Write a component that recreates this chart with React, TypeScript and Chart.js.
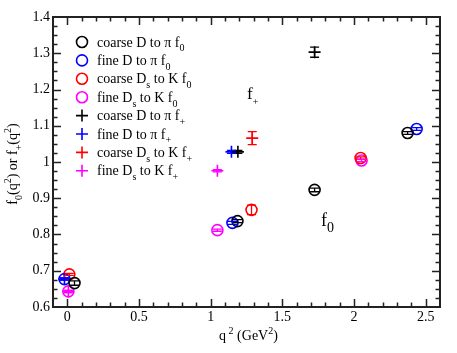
import React, { useEffect, useRef } from 'react';
import { Chart, registerables } from 'chart.js';
Chart.register(...registerables);

const FONT = '"Liberation Serif", "Times New Roman", serif';

// ---- data (q^2 in GeV^2, form factor values, errors) ----
const coarseDpiF0X = [0.05, 1.187, 1.725, 2.374];
const coarseDpiF0Y = [0.666, 0.837, 0.923, 1.080];
const coarseDpiF0E = [0.006, 0.004, 0.005, 0.004];

const fineDpiF0X = [-0.02, 1.152, 2.437];
const fineDpiF0Y = [0.677, 0.832, 1.091];
const fineDpiF0E = [0.003, 0.004, 0.004];

const coarseDsKF0X = [0.014, 1.285, 2.046];
const coarseDsKF0Y = [0.690, 0.868, 1.011];
const coarseDsKF0E = [0.003, 0.013, 0.003];

const fineDsKF0X = [0.007, 1.047, 2.053];
const fineDsKF0Y = [0.643, 0.812, 1.004];
const fineDsKF0E = [0.003, 0.003, 0.003];

const coarseDpiFpX = [1.19, 1.725];
const coarseDpiFpY = [1.028, 1.303];
const coarseDpiFpE = [0.004, 0.014];

const fineDpiFpX = [-0.02, 1.145];
const fineDpiFpY = [0.677, 1.028];
const fineDpiFpE = [0.003, 0.004];

const coarseDsKFpX = [1.29];
const coarseDsKFpY = [1.066];
const coarseDsKFpE = [0.018];

const fineDsKFpX = [0.007, 1.047];
const fineDsKFpY = [0.643, 0.976];
const fineDsKFpE = [0.003, 0.003];

const xTicks = [0, 0.5, 1, 1.5, 2, 2.5];
const yTicks = [0.6, 0.7, 0.8, 0.9, 1, 1.1, 1.2, 1.3, 1.4];

type Seg = { t: string; s?: 'sub' | 'sup'; size?: number; dy?: number };

const series = [
  { x: coarseDpiF0X, y: coarseDpiF0Y, e: coarseDpiF0E, color: '#000000', style: 'circle',
    label: [{ t: 'coarse D to π f' }, { t: '0', s: 'sub' }] as Seg[] },
  { x: fineDpiF0X, y: fineDpiF0Y, e: fineDpiF0E, color: '#0000ff', style: 'circle',
    label: [{ t: 'fine D to π f' }, { t: '0', s: 'sub' }] as Seg[] },
  { x: coarseDsKF0X, y: coarseDsKF0Y, e: coarseDsKF0E, color: '#ff0000', style: 'circle',
    label: [{ t: 'coarse D' }, { t: 's', s: 'sub' }, { t: ' to K f' }, { t: '0', s: 'sub' }] as Seg[] },
  { x: fineDsKF0X, y: fineDsKF0Y, e: fineDsKF0E, color: '#ff00ff', style: 'circle',
    label: [{ t: 'fine D' }, { t: 's', s: 'sub' }, { t: ' to K f' }, { t: '0', s: 'sub' }] as Seg[] },
  { x: coarseDpiFpX, y: coarseDpiFpY, e: coarseDpiFpE, color: '#000000', style: 'cross',
    label: [{ t: 'coarse D to π f' }, { t: '+', s: 'sub' }] as Seg[] },
  { x: fineDpiFpX, y: fineDpiFpY, e: fineDpiFpE, color: '#0000ff', style: 'cross',
    label: [{ t: 'fine D to π f' }, { t: '+', s: 'sub' }] as Seg[] },
  { x: coarseDsKFpX, y: coarseDsKFpY, e: coarseDsKFpE, color: '#ff0000', style: 'cross',
    label: [{ t: 'coarse D' }, { t: 's', s: 'sub' }, { t: ' to K f' }, { t: '+', s: 'sub' }] as Seg[] },
  { x: fineDsKFpX, y: fineDsKFpY, e: fineDsKFpE, color: '#ff00ff', style: 'cross',
    label: [{ t: 'fine D' }, { t: 's', s: 'sub' }, { t: ' to K f' }, { t: '+', s: 'sub' }] as Seg[] },
];

const xTitle: Seg[] = [{ t: 'q' }, { t: ' 2', s: 'sup' }, { t: ' (GeV' }, { t: '2', s: 'sup' }, { t: ')' }];
const yTitle: Seg[] = [{ t: 'f' }, { t: '0', s: 'sub' }, { t: '(q' }, { t: '2', s: 'sup' }, { t: ') or f' }, { t: '+', s: 'sub' }, { t: '(q' }, { t: '2', s: 'sup' }, { t: ')' }];
const fPlusNote: Seg[] = [{ t: 'f', size: 17 }, { t: '+', size: 10, dy: 6 }];
const fZeroNote: Seg[] = [{ t: 'f', size: 18 }, { t: '0', size: 14, dy: 6 }];

function segSize(s: Seg, size: number) {
  return s.size ?? (s.s ? Math.round(size * 0.7) : size);
}
function richWidth(ctx: CanvasRenderingContext2D, segs: Seg[], size: number) {
  let w = 0;
  for (const s of segs) { ctx.font = `${segSize(s, size)}px ${FONT}`; w += ctx.measureText(s.t).width; }
  return w;
}
function drawRich(ctx: CanvasRenderingContext2D, segs: Seg[], x: number, y: number, size: number, color = '#000') {
  ctx.save();
  ctx.fillStyle = color;
  ctx.textBaseline = 'alphabetic';
  ctx.textAlign = 'left';
  let cx = x;
  for (const s of segs) {
    ctx.font = `${segSize(s, size)}px ${FONT}`;
    const dy = s.dy ?? (s.s === 'sub' ? size * 0.35 : s.s === 'sup' ? -size * 0.45 : 0);
    ctx.fillText(s.t, cx, y + dy);
    cx += ctx.measureText(s.t).width;
  }
  ctx.restore();
}

const decorPlugin = {
  id: 'decor',
  afterDatasetsDraw(chart: any) {
    const ctx: CanvasRenderingContext2D = chart.ctx;
    const xs = chart.scales.x, ys = chart.scales.y;
    // error bars
    ctx.save();
    series.forEach((s) => {
      ctx.strokeStyle = s.color;
      ctx.lineWidth = 1.3;
      s.x.forEach((xv, j) => {
        const px = xs.getPixelForValue(xv);
        const p1 = ys.getPixelForValue(s.y[j] + s.e[j]);
        const p2 = ys.getPixelForValue(s.y[j] - s.e[j]);
        ctx.beginPath();
        ctx.moveTo(px, p1); ctx.lineTo(px, p2);
        ctx.moveTo(px - 4.5, p1); ctx.lineTo(px + 4.5, p1);
        ctx.moveTo(px - 4.5, p2); ctx.lineTo(px + 4.5, p2);
        ctx.stroke();
      });
    });
    ctx.restore();
  },
  afterDraw(chart: any) {
    const ctx: CanvasRenderingContext2D = chart.ctx;
    const a = chart.chartArea;
    const xs = chart.scales.x, ys = chart.scales.y;
    ctx.save();
    ctx.strokeStyle = '#222';
    ctx.lineWidth = 2;
    ctx.strokeRect(a.left, a.top, a.right - a.left, a.bottom - a.top);
    ctx.lineWidth = 1.5;
    ctx.beginPath();
    // x ticks (minor every 0.1)
    for (let i = -1; i <= 26; i++) {
      const v = i / 10;
      const px = Math.round(xs.getPixelForValue(v)) + 0.5;
      if (px <= a.left + 1 || px >= a.right - 1) continue;
      const len = i % 5 === 0 ? 8 : 4.5;
      ctx.moveTo(px, a.bottom); ctx.lineTo(px, a.bottom - len);
      ctx.moveTo(px, a.top); ctx.lineTo(px, a.top + len);
    }
    // y ticks (minor every 0.025)
    for (let i = 24; i <= 56; i++) {
      const v = i / 40;
      const py = Math.round(ys.getPixelForValue(v)) + 0.5;
      if (py <= a.top + 1 || py >= a.bottom - 1) continue;
      const len = i % 4 === 0 ? 8 : 4.5;
      ctx.moveTo(a.left, py); ctx.lineTo(a.left + len, py);
      ctx.moveTo(a.right, py); ctx.lineTo(a.right - len, py);
    }
    ctx.stroke();
    ctx.restore();

    // legend
    series.forEach((s, i) => {
      const cy = 42 + i * 18.4;
      const sx = 82;
      ctx.save();
      ctx.strokeStyle = s.color;
      ctx.lineWidth = 1.6;
      ctx.beginPath();
      if (s.style === 'circle') {
        ctx.arc(sx, cy, 5.5, 0, Math.PI * 2);
      } else {
        ctx.moveTo(sx - 6, cy); ctx.lineTo(sx + 6, cy);
        ctx.moveTo(sx, cy - 6); ctx.lineTo(sx, cy + 6);
      }
      ctx.stroke();
      ctx.restore();
      drawRich(ctx, s.label, 97, cy + 4.5, 14);
    });

    // annotations
    drawRich(ctx, fPlusNote, 247, 99, 17);
    drawRich(ctx, fZeroNote, 321, 226, 18);

    // axis titles
    const xc = (a.left + a.right) / 2;
    const xw = richWidth(ctx, xTitle, 14);
    drawRich(ctx, xTitle, xc - xw / 2 + 2, 340, 14);
    const yc = (a.top + a.bottom) / 2 + 2;
    const yw = richWidth(ctx, yTitle, 14);
    ctx.save();
    ctx.translate(17, yc);
    ctx.rotate(-Math.PI / 2);
    drawRich(ctx, yTitle, -yw / 2, 0, 14);
    ctx.restore();
  },
};

export default function App() {
  const ref = useRef<HTMLCanvasElement>(null);
  useEffect(() => {
    document.body.style.margin = '0';
    const datasets = series.map((s) => ({
      data: s.x.map((xv, j) => ({ x: xv, y: s.y[j] })),
      pointStyle: s.style,
      pointRadius: s.style === 'circle' ? 5.5 : 6,
      pointHoverRadius: s.style === 'circle' ? 5.5 : 6,
      borderColor: s.color,
      backgroundColor: 'rgba(0,0,0,0)',
      pointBorderWidth: 1.6,
      borderWidth: 1.6,
      showLine: false,
    }));
    const chart = new Chart(ref.current!, {
      type: 'scatter',
      data: { datasets } as any,
      plugins: [decorPlugin as any],
      options: {
        animation: false,
        responsive: false,
        devicePixelRatio: 1,
        layout: { padding: { top: 17, right: 17, left: 0, bottom: 0 } },
        plugins: { legend: { display: false }, tooltip: { enabled: false } },
        scales: {
          x: {
            type: 'linear',
            min: -0.1,
            max: 2.6,
            grid: { display: false, drawTicks: false, tickLength: 0 },
            border: { display: false },
            afterFit: (s: any) => { s.height = 46; },
            afterBuildTicks: (s: any) => { s.ticks = xTicks.map((v) => ({ value: v })); },
            ticks: {
              padding: 2,
              color: '#000',
              font: { family: FONT, size: 14 },
              maxRotation: 0,
              callback: (v: any) => String(parseFloat(Number(v).toFixed(2))),
            },
          },
          y: {
            type: 'linear',
            min: 0.6,
            max: 1.4,
            grid: { display: false, drawTicks: false, tickLength: 0 },
            border: { display: false },
            afterFit: (s: any) => { s.width = 53; },
            afterBuildTicks: (s: any) => { s.ticks = yTicks.map((v) => ({ value: v })); },
            ticks: {
              padding: 3,
              color: '#000',
              font: { family: FONT, size: 14 },
              callback: (v: any) => String(parseFloat(Number(v).toFixed(2))),
            },
          },
        },
      },
    });
    return () => chart.destroy();
  }, []);
  return (
    <div style={{ position: 'fixed', left: 0, top: 0, width: 457, height: 353, background: '#fff' }}>
      <canvas ref={ref} width={457} height={353} style={{ width: 457, height: 353, display: 'block' }} />
    </div>
  );
}
